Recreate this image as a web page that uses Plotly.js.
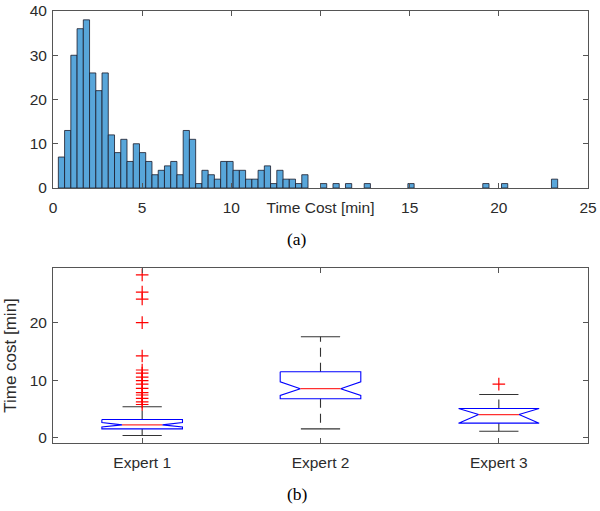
<!DOCTYPE html>
<html>
<head>
<meta charset="utf-8">
<script src="https://cdn.plot.ly/plotly-3.0.1.min.js"></script>
<style>html,body{margin:0;padding:0;background:#fff;}#chart{width:600px;height:511px;}</style>
</head>
<body>
<div id="chart"></div>
<script>
// ---- Histogram (a) ----
const binCenters = [0.475, 0.825, 1.175, 1.525, 1.875, 2.225, 2.575, 2.925, 3.275, 3.625,
  3.975, 4.325, 4.675, 5.025, 5.375, 5.725, 6.075, 6.425, 6.775, 7.125,
  7.475, 7.825, 8.175, 8.525, 8.875, 9.225, 9.575, 9.925, 10.275, 10.625,
  10.975, 11.325, 11.675, 12.025, 12.375, 12.725, 13.075, 13.425, 13.775, 14.125,
  15.175, 15.875, 16.575, 17.625, 20.075, 24.275, 25.325, 28.125];
const binCounts = [7, 13, 30, 36, 38, 26, 22, 26, 12, 8,
  11, 6, 10, 8, 6, 3, 4, 5, 6, 3,
  13, 11, 1, 4, 3, 2, 6, 6, 4, 4,
  2, 2, 4, 5, 1, 4, 2, 2, 1, 3,
  1, 1, 1, 1, 1, 1, 1, 2];
const binWidth = 0.35;
const histTickVals = [0, 5, 10, 15, 20, 25, 30];
const histTickText = ['0', '5', '10', 'Time Cost [min]', '15', '20', '25'];

// ---- Box plot (b) ----
const experts = ['Expert 1', 'Expert 2', 'Expert 3'];
const q1 = [1.5, 6.74, 2.5];
const medians = [2.2, 8.5, 4.0];
const q3 = [3.14, 11.45, 5.05];
const notchLo = [1.85, 7.33, 2.5];
const notchHi = [2.6, 9.7, 5.05];
const whiskerLo = [0.35, 1.5, 1.1];
const whiskerHi = [5.35, 17.55, 7.5];
const outliers1 = [5.75, 6.2, 6.8, 7.4, 7.8, 8.55, 9.3, 9.9, 10.5, 11.2, 11.75, 14.2, 20.0, 24.1, 25.3, 28.3];
const outliers2 = [];
const outliers3 = [9.3];

const FONT = 'Liberation Sans, Arial, Helvetica, sans-serif';
const AXC = '#555555';
const TXT = '#2b2b2b';

const traces = [];
traces.push({
  type: 'bar', x: binCenters, y: binCounts, width: binWidth,
  marker: {color: 'rgb(88,166,218)', line: {color: '#1a1a2a', width: 0.8}},
  xaxis: 'x', yaxis: 'y', hoverinfo: 'x+y', showlegend: false
});

const hw = 0.226;      // box half width (axis units)
const capHw = 0.11;    // whisker cap half width
const notchF = 0.5;    // notch inset fraction
const outs = [outliers1, outliers2, outliers3];
experts.forEach((name, i) => {
  const p = i + 1;
  traces.push({type: 'scatter', mode: 'lines', x: [p, p, null, p, p], y: [q3[i], whiskerHi[i], null, q1[i], whiskerLo[i]],
    line: {color: '#333333', width: 1.1, dash: '9px,6px'}, xaxis: 'x2', yaxis: 'y2', showlegend: false, hoverinfo: 'skip'});
  traces.push({type: 'scatter', mode: 'lines', x: [p - capHw, p + capHw, null, p - capHw, p + capHw],
    y: [whiskerHi[i], whiskerHi[i], null, whiskerLo[i], whiskerLo[i]],
    line: {color: '#333333', width: 1.1}, xaxis: 'x2', yaxis: 'y2', showlegend: false, hoverinfo: 'skip'});
  traces.push({type: 'scatter', mode: 'lines',
    x: [p - hw, p + hw, p + hw, p + hw * notchF, p + hw, p + hw, p - hw, p - hw, p - hw * notchF, p - hw, p - hw],
    y: [q3[i], q3[i], notchHi[i], medians[i], notchLo[i], q1[i], q1[i], notchLo[i], medians[i], notchHi[i], q3[i]],
    line: {color: '#0000ff', width: 1.1}, xaxis: 'x2', yaxis: 'y2', showlegend: false, hoverinfo: 'skip'});
  traces.push({type: 'scatter', mode: 'lines', x: [p - hw * notchF, p + hw * notchF], y: [medians[i], medians[i]],
    line: {color: '#ff3030', width: 1.2}, xaxis: 'x2', yaxis: 'y2', showlegend: false, hoverinfo: 'skip'});
  if (outs[i].length) {
    traces.push({type: 'scatter', mode: 'markers', x: outs[i].map(() => p), y: outs[i],
      marker: {symbol: 'cross-thin-open', size: 9, color: '#ff0000', line: {color: '#ff0000', width: 1.2}},
      xaxis: 'x2', yaxis: 'y2', showlegend: false});
  }
});

const axBase = {
  showline: true, linecolor: AXC, linewidth: 1, mirror: 'allticks',
  ticks: 'inside', ticklen: 5, tickcolor: AXC, tickwidth: 1,
  showgrid: false, zeroline: false,
  tickfont: {family: FONT, size: 15.5, color: TXT}
};

const layout = {
  width: 600, height: 511,
  margin: {l: 0, r: 0, t: 0, b: 0},
  paper_bgcolor: '#ffffff', plot_bgcolor: '#ffffff',
  showlegend: false,
  bargap: 0,
  xaxis: Object.assign({}, axBase, {domain: [53/600, 588/600], anchor: 'y', range: [0, 30],
    tickmode: 'array', tickvals: histTickVals, ticktext: histTickText, ticklabelstandoff: 5}),
  yaxis: Object.assign({}, axBase, {domain: [1 - 188/511, 1 - 11/511], anchor: 'x', range: [0, 40],
    tickvals: [0, 10, 20, 30, 40], ticklabelstandoff: 2}),
  xaxis2: Object.assign({}, axBase, {domain: [53/600, 588/600], anchor: 'y2', range: [0.5, 3.5],
    tickmode: 'array', tickvals: [1, 2, 3], ticktext: experts, ticklabelstandoff: 5}),
  yaxis2: Object.assign({}, axBase, {domain: [1 - 443/511, 1 - 268/511], anchor: 'x2', range: [-0.95, 29.5],
    tickvals: [0, 10, 20], ticklabelstandoff: 2,
    title: {text: 'Time cost [min]', font: {family: FONT, size: 17, color: TXT}, standoff: 8}}),
  annotations: [
    {text: '(a)', xref: 'paper', yref: 'paper', x: 297/600, y: 1 - 239/511, xanchor: 'center', yanchor: 'middle',
      showarrow: false, font: {family: 'Liberation Serif, Times New Roman, serif', size: 17.5, color: '#000'}},
    {text: '(b)', xref: 'paper', yref: 'paper', x: 297/600, y: 1 - 494/511, xanchor: 'center', yanchor: 'middle',
      showarrow: false, font: {family: 'Liberation Serif, Times New Roman, serif', size: 17.5, color: '#000'}}
  ]
};

Plotly.newPlot('chart', traces, layout, {staticPlot: true, displayModeBar: false});
</script>
</body>
</html>
